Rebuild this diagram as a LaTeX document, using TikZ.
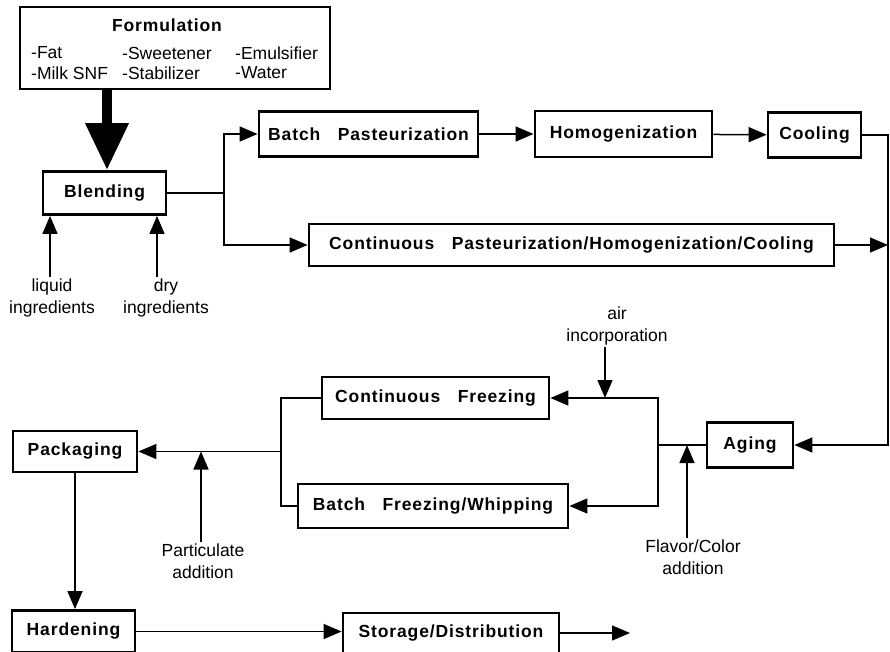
\documentclass[tikz,border=0pt]{standalone}
\usepackage{fontspec}
\setmainfont{Liberation Sans}
\newfontfamily\boxfont[LetterSpace=5]{Liberation Sans}
\usetikzlibrary{arrows.meta}

\begin{document}
\begin{tikzpicture}[
  x=1pt,
  y=-1pt,
  every node/.style={font=\fontsize{17.5}{21.5}\selectfont},
  procbox/.style={draw, line width=2.8pt, inner sep=0pt,
    font=\boxfont\bfseries\fontsize{17.5}{20}\selectfont},
  note/.style={align=center, inner sep=2pt},
  link/.style={line width=1.5pt},
  flow/.style={link, -{Triangle[length=18pt,width=15pt]}},
]
\path[use as bounding box] (0,0) rectangle (890,652);

% Formulation block.
\node[procbox, minimum width=310, minimum height=82] (formulation) at (175,48) {};
\node[font=\boxfont\bfseries\fontsize{17.5}{20}\selectfont, inner sep=0pt] (formtitle) at (167,25) {Formulation};
\node[anchor=west, inner sep=0pt] (fat) at (31,53) {-Fat};
\node[anchor=west, inner sep=0pt] (milksnf) at (31,73) {-Milk SNF};
\node[anchor=west, inner sep=0pt] (sweetener) at (122,53) {-Sweetener};
\node[anchor=west, inner sep=0pt] (stabilizer) at (122,73) {-Stabilizer};
\node[anchor=west, inner sep=0pt] (emulsifier) at (235,53) {-Emulsifier};
\node[anchor=west, inner sep=0pt] (water) at (235,73) {-Water};

% Mix preparation.
\node[procbox, minimum width=123, minimum height=43] (blending) at (104.5,193) {Blending};
\node[procbox, minimum width=219, minimum height=45] (batchpast) at (368.5,134) {Batch\quad Pasteurization};
\node[procbox, minimum width=177, minimum height=46] (homog) at (623.5,134) {Homogenization};
\node[procbox, minimum width=93, minimum height=45] (cooling) at (814.5,135) {Cooling};
\node[procbox, minimum width=525, minimum height=42] (contphc) at (571.5,245) {Continuous\quad Pasteurization/Homogenization/Cooling};

% Freezing and finishing.
\node[procbox, minimum width=86, minimum height=45] (aging) at (750,445) {Aging};
\node[procbox, minimum width=227, minimum height=42] (contfreeze) at (435.5,398) {Continuous\quad Freezing};
\node[procbox, minimum width=270, minimum height=44] (batchfreeze) at (433,506) {Batch\quad Freezing/Whipping};
\node[procbox, minimum width=124, minimum height=41] (packaging) at (75,451.5) {Packaging};
\node[procbox, minimum width=123, minimum height=42] (hardening) at (73.5,631.5) {Hardening};
\node[procbox, minimum width=216, minimum height=40] (storage) at (451,633) {Storage/Distribution};

% Side inputs.
\node[note, anchor=north] (liquidlabel) at (52,277) {liquid\\ingredients};
\node[note, anchor=north] (drylabel) at (166,277) {dry\\ingredients};
\node[note, anchor=south] (airlabel) at (617,347) {air\\incorporation};
\node[note, anchor=north] (flavorlabel) at (693,538) {Flavor/Color\\addition};
\node[note, anchor=north] (partlabel) at (203,542) {Particulate\\addition};

% Junctions.
\coordinate (split) at (224,193);
\coordinate (rail) at (888,135);
\coordinate (freezesplit) at (658,445);
\coordinate (packsplit) at (281,451.5);
\coordinate (liquidin) at (50,0);
\coordinate (dryin) at (157,0);
\coordinate (airin) at (605,398);
\coordinate (flavorin) at (687,445);
\coordinate (partin) at (201,451.5);
\coordinate (shipout) at (630,633);

% Connectors.
\draw[line width=10pt, -{Triangle[length=47pt,width=41pt]}] (formulation.south -| 107,0) -- (blending.north -| 107,0);
\draw[flow] (liquidlabel.north -| liquidin) -- (blending.south -| liquidin);
\draw[flow] (drylabel.north -| dryin) -- (blending.south -| dryin);
\draw[link] (blending.east) -- (split);
\draw[flow] (split) |- (batchpast.west);
\draw[flow] (split) |- (contphc.west);
\draw[flow] (batchpast) -- (homog);
\draw[flow] (homog) -- (cooling);
\draw[flow] (cooling.east) -- (rail) |- (aging.east);
\draw[flow] (contphc.east) -- (contphc.east -| rail);
\draw[link] (aging.west) -- (freezesplit);
\draw[flow] (freezesplit) |- (contfreeze.east);
\draw[flow] (freezesplit) |- (batchfreeze.east);
\draw[flow] (airlabel.south -| airin) -- (airin);
\draw[flow] (flavorlabel.north -| flavorin) -- (flavorin);
\draw[link] (contfreeze.west) -| (packsplit);
\draw[link] (batchfreeze.west) -| (packsplit);
\draw[flow] (packsplit) -- (packaging.east);
\draw[flow] (partlabel.north -| partin) -- (partin);
\draw[flow] (packaging.south) -- (packaging.south |- hardening.north);
\draw[flow] (hardening.east) -- (hardening.east -| storage.west);
\draw[flow] (storage.east) -- (shipout);

\end{tikzpicture}
\end{document}
